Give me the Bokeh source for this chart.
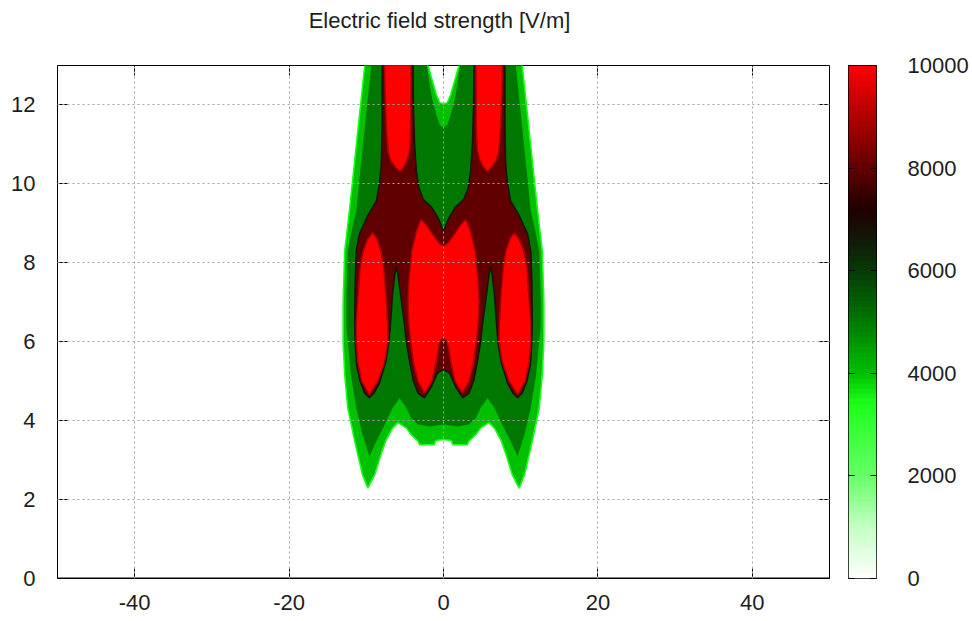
import numpy as np
from bokeh.plotting import figure
from bokeh.models import (Range1d, FixedTicker, LinearAxis, CustomJSTickFormatter, Span,
                          LinearColorMapper, Label)
from bokeh.layouts import row, column
from bokeh.embed import file_html
from bokeh.resources import INLINE

# ---------------- data ----------------
title_text = "Electric field strength [V/m]"
x_ticks = [-40, -20, 0, 20, 40]
x_tick_labels = ["-40", "-20", "0", "20", "40"]
y_ticks = [0, 2, 4, 6, 8, 10, 12]
y_tick_labels = ["0", "2", "4", "6", "8", "10", "12"]
cb_ticks = [0, 2000, 4000, 6000, 8000, 10000]
cb_tick_labels = ["0", "2000", "4000", "6000", "8000", "10000"]

# colour scale (V/m -> colour)
scale_values = [0, 1000, 2000, 3000, 3400, 4000, 5000, 6000, 6700, 7200, 8000, 9000, 10000]
scale_colors = ["#ffffff", "#c4ffc4", "#66ff66", "#33ff33", "#1aff1a", "#00c000",
                "#007800", "#063a06", "#141408", "#200000", "#600000", "#b00000", "#ff0000"]

# field levels of the filled bands [V/m]
edge_level = 3400
light_level = 4000
dark_level = 5000
black_level = 6700
maroon_level = 8000
red_edge_level = 9000
red_level = 10000

# contour outlines, left half (x <= 0); the field is mirror-symmetric about x = 0
outer_x = [0.0, -0.5, -0.95, -1.5, -2.0, -2.2, -10.05, -10.2, -10.85, -11.55, -12.2, -12.8, -13.0, -13.0,
           -12.8, -12.4, -11.5, -10.5, -9.8, -8.9, -8.1, -7.5, -6.6, -5.9, -4.8, -4.2, -3.3, -3.1, -1.2, -1.0, 0.0]
outer_y = [12.03, 12.06, 12.27, 12.65, 13.0, 13.3, 13.3, 13.0, 11.8, 10.5, 9.3, 8.3, 7.0, 6.0,
           5.17, 4.32, 3.48, 2.63, 2.29, 2.63, 3.14, 3.48, 3.81, 3.95, 3.81, 3.65, 3.48, 3.39, 3.39, 3.5, 3.52]

dark_x = [0.0, -0.5, -1.0, -1.6, -2.16, -2.3, -9.2, -9.36, -10.2, -10.8, -11.3, -11.9, -12.4, -12.6, -12.6,
          -12.4, -12.0, -11.3, -10.5, -9.6, -8.7, -7.6, -6.6, -5.7, -4.8, -4.2, -3.3, -1.8, -0.95, 0.0]
dark_y = [11.42, 11.5, 11.8, 12.28, 13.0, 13.3, 13.3, 13.0, 11.42, 10.3, 9.31, 8.8, 8.3, 7.03, 6.4,
          6.01, 5.17, 4.32, 3.65, 3.1, 3.48, 3.9, 4.32, 4.57, 4.32, 4.07, 3.9, 3.85, 3.88, 3.9]

maroon_x = [0.0, -0.6, -1.5, -2.6, -3.2, -3.5, -3.75, -3.9, -3.95, -3.95, -7.95, -7.95, -7.95, -8.05, -8.3,
            -8.7, -9.8, -10.9, -11.3, -11.45, -11.5, -11.45, -11.25, -10.8, -10.2, -9.6, -9.0, -8.3, -7.45,
            -7.05, -6.85, -6.6, -6.3, -6.1, -5.9, -5.5, -5.1, -4.8, -4.4, -3.9, -3.3, -2.5, -1.6, -0.8, 0.0]
maroon_y = [8.8, 9.1, 9.4, 9.6, 9.9, 10.3, 11.0, 12.0, 13.0, 13.3, 13.3, 13.0, 11.5, 10.5, 10.0,
            9.56, 9.2, 8.72, 8.3, 7.5, 6.5, 6.0, 5.4, 5.0, 4.7, 4.58, 4.7, 4.95, 5.5,
            6.0, 6.5, 7.2, 7.7, 7.9, 7.7, 7.1, 6.5, 6.0, 5.5, 5.0, 4.7, 4.58, 4.85, 5.2, 5.3]

# red (>= 10000 V/m) zones around the conductors, left side
outer_red_x = [-9.15, -8.6, -8.1, -7.75, -7.4, -7.25, -7.2, -7.6, -8.5, -9.6, -10.6, -11.1, -11.3, -11.3,
               -11.1, -10.8, -10.4, -9.8]
outer_red_y = [8.76, 8.6, 8.3, 7.9, 7.03, 6.5, 6.01, 5.5, 5.0, 4.66, 5.0, 5.5, 6.01, 6.5,
               7.03, 7.9, 8.3, 8.6]
upper_red_x = [-7.65, -7.55, -7.4, -7.15, -6.8, -6.2, -5.65, -5.1, -4.65, -4.4, -4.25, -4.2]
upper_red_y = [13.3, 12.3, 11.42, 10.8, 10.58, 10.42, 10.32, 10.45, 10.65, 10.85, 11.42, 13.3]
inner_red_x = [0.0, -0.6, -1.4, -2.2, -2.9, -3.5, -4.1, -4.45, -4.6, -4.5, -4.25, -3.9, -3.3, -2.45,
               -1.5, -0.95, -0.5, 0.0]
inner_red_y = [8.42, 8.5, 8.72, 8.95, 9.1, 8.8, 8.3, 7.6, 7.03, 6.5, 6.0, 5.5, 5.0, 4.7,
               5.0, 5.5, 6.0, 6.1]

# ---------------- helpers ----------------
_rgb = np.array([[int(c[i:i + 2], 16) for i in (1, 3, 5)] for c in scale_colors], float)


def color_at(v):
    r, g, b = (int(round(float(np.interp(v, scale_values, _rgb[:, k])))) for k in range(3))
    return "#%02x%02x%02x" % (r, g, b)


def mirror_half(xs, ys):
    return list(xs) + [-x for x in reversed(xs)], list(ys) + list(reversed(ys))


FONT = "Liberation Sans"
TXT = "#1e1e1e"
FS = "22px"
GRID = "#a4a4a4"
TOP = 20

# ---------------- title strip ----------------
TW, TH = 838, 45
tfig = figure(width=TW, height=TH, x_range=Range1d(0, TW), y_range=Range1d(0, TH),
              min_border=0, toolbar_location=None, output_backend="svg",
              x_axis_location=None, y_axis_location=None)
tfig.grid.visible = False
tfig.outline_line_color = None
tfig.add_layout(Label(x=439, y=TH - 20, text=title_text, text_font=FONT, text_font_size=FS,
                      text_color=TXT, text_align="center", text_baseline="middle"))

# ---------------- main plot ----------------
p = figure(frame_width=772, frame_height=513, x_range=Range1d(-50, 50), y_range=Range1d(0, 13),
           min_border_left=57, min_border_right=9, min_border_top=TOP, min_border_bottom=40,
           toolbar_location=None, output_backend="svg")
p.outline_line_color = "#000000"
p.outline_line_width = 1
p.background_fill_color = "#ffffff"
p.border_fill_color = "#ffffff"

ox, oy = mirror_half(outer_x, outer_y)
p.patch(ox, oy, fill_color=color_at(light_level), line_color=color_at(edge_level), line_width=1.5)
dx, dy = mirror_half(dark_x, dark_y)
p.patch(dx, dy, fill_color=color_at(dark_level), line_color=None)
mx, my = mirror_half(maroon_x, maroon_y)
p.patch(mx, my, fill_color=color_at(maroon_level), line_color=color_at(black_level), line_width=1.5)

ix, iy = mirror_half(inner_red_x, inner_red_y)
red_xs = [outer_red_x, [-x for x in outer_red_x], upper_red_x, [-x for x in upper_red_x], ix]
red_ys = [outer_red_y, outer_red_y, upper_red_y, upper_red_y, iy]
p.patches(red_xs, red_ys, fill_color=color_at(red_level), line_color=color_at(red_edge_level), line_width=1.5)

# axes
p.xaxis.ticker = FixedTicker(ticks=x_ticks)
p.xaxis.major_label_overrides = dict(zip(x_ticks, x_tick_labels))
p.yaxis.ticker = FixedTicker(ticks=y_ticks)
p.yaxis.major_label_overrides = dict(zip(y_ticks, y_tick_labels))
for ax in (p.xaxis[0], p.yaxis[0]):
    ax.major_label_text_font = FONT
    ax.major_label_text_font_size = FS
    ax.major_label_text_color = TXT
    ax.axis_line_color = None
    ax.major_tick_in = 10
    ax.major_tick_out = 0
    ax.major_tick_line_color = "#000000"
    ax.minor_tick_line_color = None
p.xaxis.major_label_standoff = 16
p.yaxis.major_label_standoff = 22

empty = CustomJSTickFormatter(code="return ''")
top_ax = LinearAxis(ticker=FixedTicker(ticks=x_ticks), formatter=empty, major_tick_in=10, major_tick_out=0,
                    minor_tick_line_color=None, axis_line_color=None, major_label_standoff=0,
                    major_label_text_font_size="1px")
right_ax = LinearAxis(ticker=FixedTicker(ticks=y_ticks), formatter=empty, major_tick_in=10, major_tick_out=0,
                      minor_tick_line_color=None, axis_line_color=None, major_label_standoff=0,
                      major_label_text_font_size="1px")
p.add_layout(top_ax, "above")
p.add_layout(right_ax, "right")

p.xgrid.ticker = FixedTicker(ticks=x_ticks)
p.ygrid.ticker = FixedTicker(ticks=y_ticks[1:])
for g in (p.xgrid[0], p.ygrid[0]):
    g.grid_line_color = GRID
    g.grid_line_dash = "2 3"
    g.grid_line_width = 1
    g.level = "overlay"

p.add_layout(Span(location=0, dimension="width", line_color="#000000", line_width=2))

# ---------------- colour bar ----------------
cb = figure(frame_width=28, frame_height=513, x_range=Range1d(0, 1), y_range=Range1d(0, 10000),
            min_border_left=10, min_border_right=2, min_border_top=TOP, min_border_bottom=40,
            toolbar_location=None, output_backend="svg", x_axis_location=None, y_axis_location="right")
steps = np.linspace(0, 10000, 101)
mids = (steps[:-1] + steps[1:]) / 2
cb_palette = [color_at(v) for v in mids]
cb_mapper = LinearColorMapper(palette=cb_palette, low=0, high=10000)
cb.image(image=[mids.reshape(-1, 1)], x=0, y=0, dw=1, dh=10000, color_mapper=cb_mapper)
cb.grid.visible = False
cb.outline_line_color = "#000000"
cb.yaxis.ticker = FixedTicker(ticks=cb_ticks)
cb.yaxis.major_label_overrides = dict(zip(cb_ticks, cb_tick_labels))
cb.yaxis.major_label_text_font = FONT
cb.yaxis.major_label_text_font_size = FS
cb.yaxis.major_label_text_color = TXT
cb.yaxis.major_label_standoff = 31
cb.yaxis.axis_line_color = None
cb.yaxis.major_tick_in = 6
cb.yaxis.major_tick_out = 0
cb.yaxis.major_tick_line_color = "#000000"
cb.yaxis.minor_tick_line_color = None
cb_left = LinearAxis(ticker=FixedTicker(ticks=cb_ticks), formatter=empty, major_tick_in=6, major_tick_out=0,
                     minor_tick_line_color=None, axis_line_color=None, major_label_standoff=0,
                     major_label_text_font_size="1px")
cb.add_layout(cb_left, "left")

layout = column(tfig, row(p, cb, spacing=0), spacing=0)
open("out.html", "w").write(file_html(layout, INLINE))
